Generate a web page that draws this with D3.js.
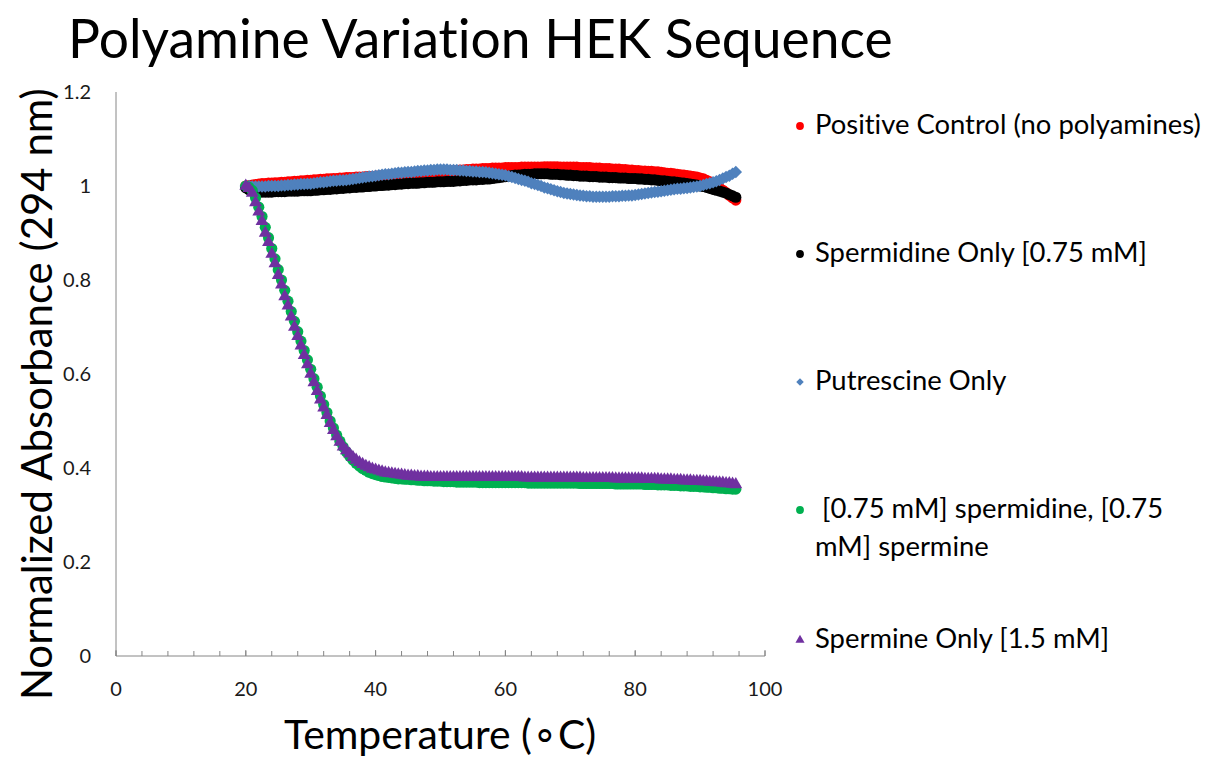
<!DOCTYPE html>
<html>
<head>
<meta charset="utf-8">
<script src="https://cdn.jsdelivr.net/npm/d3@7"></script>
<style>
  body { margin: 0; background: #fff; }
  svg { display: block; font-family: Lato, "Open Sans", sans-serif; font-variant-ligatures: none; }
</style>
</head>
<body>
<svg class="chart" width="1206" height="758"></svg>
<script>
// readings every 0.5 C from 20 to 95.5
const temps = d3.range(20, 95.75, 0.5)

const seriesNames = [
  "Positive Control (no polyamines)",
  "Spermidine Only [0.75 mM]",
  "Putrescine Only",
  " [0.75 mM] spermidine, [0.75 mM] spermine",
  "Spermine Only [1.5 mM]"
]

const positiveControl = [
  1.000,1.001,1.002,1.003,1.004,1.005,1.005,1.006,1.006,1.007, 1.007,1.008,1.008,1.009,1.009,1.010,1.010,1.011,1.011,1.012,
  1.012,1.013,1.013,1.014,1.014,1.015,1.015,1.016,1.016,1.017, 1.017,1.018,1.018,1.018,1.019,1.019,1.019,1.020,1.020,1.020,
  1.021,1.021,1.022,1.022,1.023,1.023,1.024,1.024,1.025,1.025, 1.026,1.026,1.027,1.027,1.028,1.028,1.029,1.029,1.030,1.030,
  1.031,1.031,1.032,1.032,1.033,1.033,1.034,1.034,1.035,1.035, 1.036,1.036,1.036,1.037,1.037,1.037,1.038,1.038,1.038,1.038,
  1.039,1.039,1.039,1.039,1.039,1.040,1.040,1.040,1.040,1.040, 1.040,1.040,1.041,1.041,1.041,1.041,1.041,1.040,1.040,1.040,
  1.040,1.040,1.040,1.039,1.039,1.039,1.039,1.038,1.038,1.038, 1.037,1.037,1.037,1.036,1.036,1.036,1.035,1.035,1.034,1.034,
  1.033,1.033,1.032,1.032,1.031,1.031,1.030,1.030,1.029,1.028, 1.027,1.027,1.026,1.025,1.024,1.023,1.022,1.021,1.020,1.019,
  1.017,1.015,1.012,1.009,1.005,1.001,0.996,0.991,0.986,0.980,0.975,0.970
]

const spermidineOnly = [
  0.996,0.992,0.989,0.988,0.987,0.987,0.987,0.987,0.987,0.988, 0.988,0.988,0.988,0.989,0.989,0.989,0.989,0.990,0.990,0.990,
  0.990,0.991,0.991,0.992,0.992,0.993,0.993,0.994,0.994,0.995, 0.995,0.996,0.996,0.997,0.997,0.998,0.998,0.999,0.999,1.000,
  1.000,1.001,1.001,1.002,1.002,1.003,1.003,1.004,1.004,1.005, 1.005,1.006,1.006,1.006,1.007,1.007,1.008,1.008,1.008,1.009,
  1.009,1.009,1.010,1.010,1.010,1.011,1.011,1.012,1.012,1.013, 1.013,1.013,1.014,1.014,1.015,1.015,1.016,1.017,1.018,1.019,
  1.020,1.021,1.022,1.023,1.023,1.024,1.025,1.025,1.025,1.026, 1.026,1.026,1.026,1.026,1.025,1.025,1.025,1.024,1.024,1.023,
  1.023,1.022,1.022,1.021,1.021,1.021,1.020,1.020,1.020,1.019, 1.019,1.019,1.018,1.018,1.018,1.017,1.017,1.017,1.016,1.016,
  1.016,1.015,1.015,1.014,1.014,1.013,1.013,1.012,1.011,1.011, 1.010,1.009,1.009,1.008,1.007,1.006,1.005,1.004,1.003,1.002,
  1.000,0.999,0.997,0.995,0.993,0.991,0.989,0.987,0.985,0.982,0.979,0.976
]

const putrescineOnly = [
  1.000,1.000,0.999,0.999,0.999,0.999,0.999,1.000,1.000,1.000, 1.000,1.001,1.001,1.002,1.002,1.003,1.003,1.004,1.004,1.005,
  1.005,1.006,1.007,1.008,1.008,1.009,1.010,1.011,1.011,1.012, 1.012,1.013,1.014,1.015,1.016,1.017,1.018,1.019,1.020,1.021,
  1.022,1.023,1.024,1.025,1.025,1.026,1.027,1.028,1.028,1.029, 1.030,1.030,1.031,1.032,1.032,1.033,1.033,1.034,1.034,1.035,
  1.035,1.035,1.035,1.034,1.034,1.034,1.033,1.033,1.032,1.032, 1.031,1.031,1.030,1.030,1.029,1.028,1.027,1.026,1.025,1.024,
  1.023,1.021,1.019,1.017,1.015,1.013,1.011,1.009,1.006,1.004, 1.002,1.000,0.997,0.995,0.993,0.991,0.989,0.987,0.985,0.984,
  0.983,0.982,0.981,0.980,0.979,0.978,0.978,0.977,0.977,0.977, 0.977,0.977,0.977,0.978,0.978,0.978,0.979,0.979,0.980,0.980,
  0.981,0.982,0.983,0.984,0.985,0.986,0.987,0.988,0.989,0.990, 0.991,0.992,0.993,0.994,0.994,0.995,0.996,0.997,0.998,0.999,
  1.000,1.002,1.004,1.006,1.008,1.010,1.013,1.016,1.019,1.022,1.026,1.030
]

const spermidineSpermine = [
  1.000,0.997,0.990,0.975,0.955,0.935,0.912,0.890,0.867,0.845, 0.822,0.800,0.778,0.755,0.733,0.712,0.690,0.670,0.650,0.630,
  0.610,0.590,0.572,0.553,0.535,0.518,0.500,0.485,0.470,0.457, 0.445,0.434,0.425,0.417,0.410,0.404,0.399,0.395,0.391,0.388,
  0.386,0.384,0.382,0.381,0.380,0.379,0.378,0.377,0.377,0.376, 0.376,0.375,0.375,0.374,0.374,0.373,0.373,0.373,0.372,0.372,
  0.372,0.371,0.371,0.371,0.371,0.370,0.370,0.370,0.370,0.370, 0.370,0.370,0.369,0.369,0.369,0.369,0.369,0.369,0.369,0.369,
  0.369,0.369,0.369,0.369,0.369,0.369,0.369,0.368,0.368,0.368, 0.368,0.368,0.368,0.368,0.368,0.368,0.368,0.368,0.368,0.368,
  0.368,0.368,0.368,0.367,0.367,0.367,0.367,0.367,0.367,0.367, 0.367,0.367,0.367,0.367,0.366,0.366,0.366,0.366,0.366,0.366,
  0.366,0.366,0.366,0.365,0.365,0.365,0.365,0.364,0.364,0.364, 0.364,0.363,0.363,0.363,0.362,0.362,0.362,0.361,0.361,0.361,
  0.360,0.360,0.359,0.359,0.358,0.358,0.357,0.357,0.356,0.356,0.355,0.355
]

const spermineOnly = [
  1.000,0.995,0.985,0.965,0.945,0.925,0.900,0.880,0.855,0.835, 0.810,0.790,0.765,0.745,0.722,0.700,0.680,0.660,0.640,0.620,
  0.600,0.582,0.563,0.545,0.528,0.512,0.495,0.480,0.467,0.455, 0.445,0.437,0.430,0.423,0.417,0.412,0.408,0.404,0.401,0.398,
  0.396,0.394,0.392,0.390,0.389,0.388,0.387,0.386,0.385,0.384, 0.383,0.383,0.382,0.382,0.381,0.381,0.381,0.380,0.380,0.380,
  0.380,0.380,0.380,0.380,0.380,0.380,0.380,0.380,0.380,0.380, 0.380,0.380,0.380,0.380,0.380,0.380,0.380,0.380,0.380,0.380,
  0.380,0.380,0.380,0.380,0.380,0.380,0.379,0.379,0.379,0.379, 0.379,0.379,0.379,0.379,0.379,0.379,0.379,0.379,0.379,0.379,
  0.379,0.379,0.379,0.379,0.378,0.378,0.378,0.378,0.378,0.378, 0.378,0.378,0.378,0.378,0.377,0.377,0.377,0.377,0.377,0.377,
  0.377,0.377,0.377,0.376,0.376,0.376,0.376,0.376,0.375,0.375, 0.375,0.375,0.374,0.374,0.374,0.373,0.373,0.373,0.372,0.372,
  0.372,0.371,0.371,0.370,0.370,0.369,0.369,0.368,0.367,0.367,0.366,0.365
]

const seriesValues = [positiveControl, spermidineOnly, putrescineOnly, spermidineSpermine, spermineOnly]
const seriesColors = ["#ff0000", "#000000", "#4f81bd", "#00b050", "#7030a0"]
const seriesShapes = ["circle", "circle", "diamond", "circle", "triangle"]

const xTicks = [0, 20, 40, 60, 80, 100]
const yTicks = [0, 0.2, 0.4, 0.6, 0.8, 1, 1.2]

const svg = d3.select("svg.chart")

// scales, plot box 116..765 x 92..656
const x = d3.scaleLinear().domain([0, 100]).range([116, 765])
const y = d3.scaleLinear().domain([0, 1.2]).range([656, 92])

// scale a text's font so it spans the given width
function fitWidth(sel, w) {
  const len = sel.node().getComputedTextLength()
  const fs = parseFloat(sel.attr("font-size"))
  sel.attr("font-size", fs * w / len)
  return fs * w / len
}

// title
svg.append("text")
  .attr("x", 68)
  .attr("y", 58)
  .attr("font-size", 48)
  .attr("fill", "#000")
  .text("Polyamine Variation HEK Sequence")
  .call(fitWidth, 825)

// axes lines
svg.append("line")
  .attr("x1", x(0)).attr("x2", x(0))
  .attr("y1", y(1.2)).attr("y2", y(0))
  .attr("stroke", "#868686")
  .attr("stroke-width", 1)

svg.append("line")
  .attr("x1", x(0)).attr("x2", x(100))
  .attr("y1", y(0)).attr("y2", y(0))
  .attr("stroke", "#868686")
  .attr("stroke-width", 1)

// minor ticks every 4 units, pointing up into the plot
svg.append("g")
  .selectAll("line")
  .data(d3.range(0, 101, 4))
  .enter()
  .append("line")
  .attr("x1", d => x(d)).attr("x2", d => x(d))
  .attr("y1", y(0)).attr("y2", y(0) - 5)
  .attr("stroke", "#868686")

svg.append("g")
  .selectAll("line")
  .data(xTicks)
  .enter()
  .append("line")
  .attr("x1", d => x(d)).attr("x2", d => x(d))
  .attr("y1", y(0)).attr("y2", y(0) - 6)
  .attr("stroke", "#868686")

// tick labels
svg.append("g")
  .selectAll("text")
  .data(xTicks)
  .enter()
  .append("text")
  .attr("x", d => x(d))
  .attr("y", 696)
  .attr("text-anchor", "middle")
  .attr("font-size", 20)
  .attr("fill", "#1a1a1a")
  .text(d => d)

svg.append("g")
  .selectAll("text")
  .data(yTicks)
  .enter()
  .append("text")
  .attr("x", 91)
  .attr("y", d => y(d) + 7)
  .attr("text-anchor", "end")
  .attr("font-size", 20)
  .attr("fill", "#1a1a1a")
  .text(d => d)

// axis titles
svg.append("text")
  .attr("x", 284)
  .attr("y", 749)
  .attr("font-size", 38)
  .attr("fill", "#000")
  .text("Temperature (\u2218C)")
  .call(fitWidth, 312)

svg.append("text")
  .attr("transform", "translate(52,700) rotate(-90)")
  .attr("font-size", 38)
  .attr("fill", "#000")
  .text("Normalized Absorbance (294 nm)")
  .call(fitWidth, 612)

// markers
function markerPath(shape, big) {
  if (shape == "diamond") return d3.symbol(d3.symbolSquare, big ? 78 : 28)()
  if (shape == "triangle") return d3.symbol(d3.symbolTriangle, big ? 72 : 36)()
  return d3.symbol(d3.symbolCircle, big ? 98 : 48)()
}

seriesValues.forEach((vals, s) => {
  const path = markerPath(seriesShapes[s], true)
  const rot = seriesShapes[s] == "diamond" ? " rotate(45)" : ""
  svg.append("g")
    .selectAll("path")
    .data(vals)
    .enter()
    .append("path")
    .attr("d", path)
    .attr("transform", (d, i) => "translate(" + x(temps[i]) + "," + y(d) + ")" + rot)
    .attr("fill", seriesColors[s])
})

// legend
const legendRows = [
  [seriesNames[0]],
  [seriesNames[1]],
  [seriesNames[2]],
  [" [0.75 mM] spermidine, [0.75", "mM] spermine"],
  [seriesNames[4]]
]
const legendY = [126, 254, 382, 510, 640]

const legend = svg.append("g")
let legendFont = 22
legendRows.forEach((lines, s) => {
  const row = legend.append("g")
  row.append("path")
    .attr("d", markerPath(seriesShapes[s], false))
    .attr("transform", "translate(800," + legendY[s] + ")" + (seriesShapes[s] == "diamond" ? " rotate(45)" : ""))
    .attr("fill", seriesColors[s])
  lines.forEach((t, j) => {
    const txt = row.append("text")
      .attr("x", 815)
      .attr("y", legendY[s] + 8 + j * 38)
      .attr("font-size", legendFont)
      .attr("fill", "#000")
      .style("white-space", "pre")
      .text(t)
    if (s == 0) legendFont = fitWidth(txt, 386)
  })
})
</script>
</body>
</html>
